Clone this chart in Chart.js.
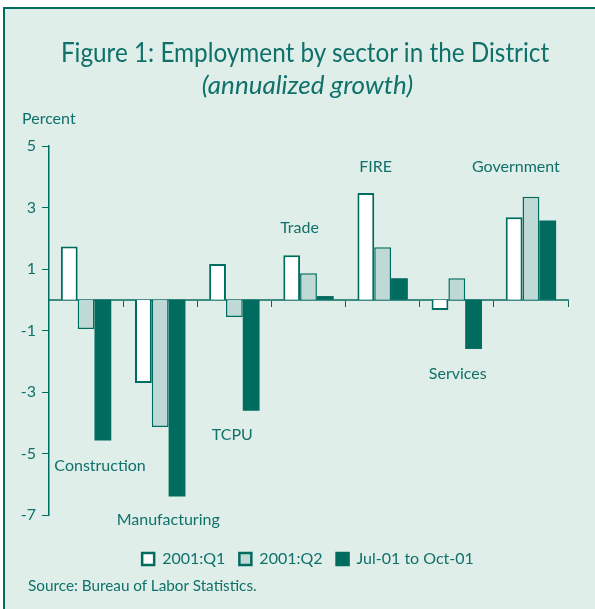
<!DOCTYPE html>
<html>
<head>
<meta charset="utf-8">
<script src="https://cdn.jsdelivr.net/npm/chart.js@4/dist/chart.umd.min.js"></script>
<style>
  html, body { margin: 0; padding: 0; background: #fff; }
  #frame {
    position: absolute; left: 3px; top: 7px; width: 592px; height: 602px;
    background: #dfeee9; border-left: 2px solid #006b5f; border-top: 2px solid #006b5f;
    box-sizing: border-box; overflow: hidden;
  }
  .txt { position: absolute; color: #10706a; font-family: Lato, sans-serif; white-space: nowrap; }
  #title { left: 0; width: 610px; text-align: center; top: 35px; font-size: 27px; transform: scaleX(0.9); transform-origin: 305px 0; }
  #sub { left: 0; width: 615px; text-align: center; top: 68px; font-size: 26px; font-style: italic; }
  #unit { left: 22px; top: 108px; font-size: 16px; }
  #source { left: 28px; top: 576px; font-size: 15.3px; }
  #chart { position: absolute; left: 0; top: 0; }
</style>
</head>
<body>
<div id="frame"></div>
<canvas id="chart" width="595" height="609"></canvas>
<div class="txt" id="title">Figure 1: Employment by sector in the District</div>
<div class="txt" id="sub">(annualized growth)</div>
<div class="txt" id="unit">Percent</div>
<div class="txt" id="source">Source: Bureau of Labor Statistics.</div>
<script>
// ---- data ----
const SECTORS = ['Construction', 'Manufacturing', 'TCPU', 'Trade', 'FIRE', 'Services', 'Government'];
const Q1 = [1.73, -2.71, 1.16, 1.45, 3.47, -0.33, 2.68];
const Q2 = [-0.95, -4.14, -0.56, 0.86, 1.71, 0.70, 3.35];
const JUL_OCT = [-4.58, -6.40, -3.61, 0.12, 0.70, -1.60, 2.58];
const Y_TICKS = [-7, -5, -3, -1, 1, 3, 5];

const TEAL = '#006b5f';
const TEXT = '#10706a';
const FONT = 'Lato, sans-serif';

// where each sector name sits: pixel nudge from category centre, y in axis units
const LABEL_SPOTS = [
  { dx: 14, y: -5.4 }, { dx: 8, y: -7.15 }, { dx: -2, y: -4.39 },
  { dx: -9, y: 2.34 }, { dx: -7, y: 4.33 }, { dx: 1, y: -2.41 }, { dx: -15, y: 4.33 }
];

const sectorLabels = {
  id: 'sectorLabels',
  afterDatasetsDraw(chart) {
    const { ctx, scales: { x, y } } = chart;
    ctx.save();
    ctx.font = '16px ' + FONT;
    ctx.fillStyle = TEXT;
    ctx.textAlign = 'center';
    ctx.textBaseline = 'middle';
    SECTORS.forEach((name, i) => {
      const s = LABEL_SPOTS[i];
      ctx.fillText(name, x.getPixelForValue(i) + s.dx, y.getPixelForValue(s.y));
    });
    ctx.restore();
  }
};

// empty axes used only to reserve space around the plot
const spacer = (pos, size) => ({
  type: 'linear',
  position: pos,
  grid: { display: false },
  border: { display: false },
  ticks: { display: false },
  afterFit(scale) {
    if (pos === 'bottom') scale.height = size; else scale.width = size;
  }
});

new Chart(document.getElementById('chart'), {
  type: 'bar',
  data: {
    labels: SECTORS,
    datasets: [
      { label: '2001:Q1', data: Q1, backgroundColor: '#ffffff', borderColor: TEAL, borderWidth: 2 },
      { label: '2001:Q2', data: Q2, backgroundColor: '#bfd9d6', borderColor: TEAL, borderWidth: 1.5 },
      { label: 'Jul-01 to Oct-01', data: JUL_OCT, backgroundColor: TEAL, borderColor: TEAL, borderWidth: 0 }
    ]
  },
  options: {
    responsive: false,
    animation: false,
    devicePixelRatio: 1,
    layout: { padding: { left: 21, right: 0, top: 146, bottom: 32 } },
    datasets: { bar: { categoryPercentage: 0.68, barPercentage: 1.0 } },
    plugins: {
      tooltip: { enabled: false },
      legend: {
        position: 'bottom',
        labels: {
          font: { family: FONT, size: 16 },
          color: TEXT,
          boxWidth: 12,
          boxHeight: 12,
          padding: 14,
          generateLabels(chart) {
            return chart.data.datasets.map((d, i) => ({
              text: d.label,
              fillStyle: d.backgroundColor,
              strokeStyle: TEAL,
              lineWidth: 2.5,
              fontColor: TEXT,
              datasetIndex: i
            }));
          }
        }
      }
    },
    scales: {
      x: {
        position: { y: 0 },
        offset: true,
        grid: { drawOnChartArea: false, color: TEAL, tickLength: 6, offset: true },
        border: { color: '#3f8c83', width: 2 },
        ticks: { display: false }
      },
      y: {
        min: -7,
        max: 5,
        afterBuildTicks(scale) { scale.ticks = Y_TICKS.map(v => ({ value: v })); },
        afterFit(scale) { scale.width = 28; },
        grid: { drawOnChartArea: false, color: TEAL, tickLength: 7 },
        border: { color: TEAL, width: 1.5 },
        ticks: { color: TEXT, font: { family: FONT, size: 16 }, padding: 6 }
      },
      padRight: spacer('right', 27),
      padBottom: spacer('bottom', 22)
    }
  },
  plugins: [sectorLabels]
});
</script>
</body>
</html>
